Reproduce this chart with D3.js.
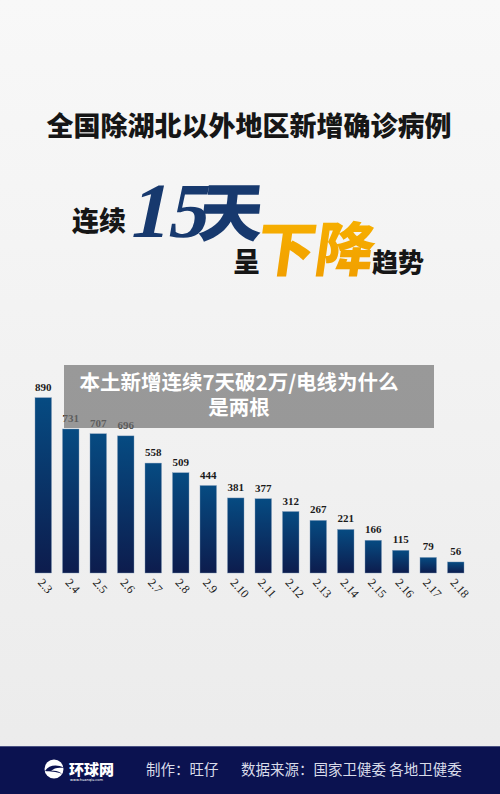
<!DOCTYPE html>
<html lang="zh">
<head>
<meta charset="utf-8">
<title>全国除湖北以外地区新增确诊病例</title>
<script src="https://d3js.org/d3.v7.min.js"></script>
<style>
  html, body { margin: 0; padding: 0; background: #f2f2f2; }
  svg { display: block; }
</style>
</head>
<body>
<div id="chart"></div>
<script>
const dates = ["2.3", "2.4", "2.5", "2.6", "2.7", "2.8", "2.9", "2.10",
               "2.11", "2.12", "2.13", "2.14", "2.15", "2.16", "2.17", "2.18"];
const cases = [890, 731, 707, 696, 558, 509, 444, 381, 377, 312, 267, 221, 166, 115, 79, 56];

const W = 500, H = 794;
const cjk = "'Noto Sans CJK SC', sans-serif";
const serif = "'Liberation Serif', 'DejaVu Serif', serif";

const svg = d3.select("#chart").append("svg")
    .attr("width", W)
    .attr("height", H);

const defs = svg.append("defs");

// page background
let bg = defs.append("linearGradient").attr("id", "bg")
    .attr("x1", 0).attr("y1", 0).attr("x2", 0).attr("y2", 1);
bg.append("stop").attr("offset", "0%").attr("stop-color", "#f8f8f8");
bg.append("stop").attr("offset", "100%").attr("stop-color", "#ebebeb");

// bar fill, lighter blue at the top
let bar = defs.append("linearGradient").attr("id", "bar")
    .attr("x1", 0).attr("y1", 0).attr("x2", 0).attr("y2", 1);
bar.append("stop").attr("offset", "0%").attr("stop-color", "#064b82");
bar.append("stop").attr("offset", "100%").attr("stop-color", "#0d1c4d");

let orange = defs.append("linearGradient").attr("id", "orange")
    .attr("x1", 0).attr("y1", 0).attr("x2", 0).attr("y2", 1);
orange.append("stop").attr("offset", "0%").attr("stop-color", "#f8b400");
orange.append("stop").attr("offset", "100%").attr("stop-color", "#f09c00");

svg.append("rect")
    .attr("width", W).attr("height", H)
    .attr("fill", "url(#bg)");

// headline
svg.append("text")
    .attr("x", 249).attr("y", 136)
    .attr("text-anchor", "middle")
    .attr("font-family", cjk)
    .attr("font-weight", 900)
    .attr("font-size", 27)
    .attr("fill", "#161616")
    .text("全国除湖北以外地区新增确诊病例");

function word(txt, x, y, size, fill, family, skew, weight) {
    svg.append("text")
        .attr("transform", "translate(" + x + "," + y + ") skewX(" + (skew || 0) + ")")
        .attr("font-family", family || cjk)
        .attr("font-weight", weight || 900)
        .attr("font-size", size)
        .attr("fill", fill)
        .text(txt);
}

word("连续", 72, 231, 27, "#161616");
word("15", 127, 237, 78, "#17396e", serif, -12, 700);
word("天", 197, 236, 64, "#17396e", cjk, -6);
word("呈", 233, 272, 27, "#161616");
word("下降", 254, 271, 59, "url(#orange)", cjk, -8);
word("趋势", 372, 272, 26, "#161616");

// bar chart
const baseY = 573;

const x = d3.scaleBand()
    .domain(dates)
    .range([35, 464])
    .paddingInner(0.4)
    .paddingOuter(0);

const y = d3.scaleLinear()
    .domain([0, 1000])
    .range([baseY, baseY - 197]);

const g = svg.append("g");

g.selectAll("rect.bar")
    .data(cases)
    .enter()
    .append("rect")
    .attr("class", "bar")
    .attr("x", (d, i) => x(dates[i]))
    .attr("y", d => y(d))
    .attr("width", x.bandwidth())
    .attr("height", d => y(0) - y(d))
    .attr("fill", "url(#bar)")
    .attr("stroke", "#7f9ab8")
    .attr("stroke-width", 0.4);

g.selectAll("text.val")
    .data(cases)
    .enter()
    .append("text")
    .attr("class", "val")
    .attr("x", (d, i) => x(dates[i]) + x.bandwidth() / 2)
    .attr("y", d => y(d) - 7)
    .attr("text-anchor", "middle")
    .attr("font-family", serif)
    .attr("font-weight", 700)
    .attr("font-size", 11)
    .attr("fill", "#1a1a1a")
    .text(d => d);

// date labels, slanted down to the right
const xAxis = d3.axisBottom(x).tickSize(0).tickPadding(0);
const ax = svg.append("g")
    .attr("transform", "translate(0," + baseY + ")")
    .call(xAxis);
ax.select(".domain").remove();
ax.selectAll("text")
    .attr("font-family", serif)
    .attr("font-size", 12)
    .attr("fill", "#1a1a1a")
    .attr("text-anchor", "start")
    .attr("dy", 0)
    .attr("y", 0)
    .attr("x", 0)
    .attr("transform", "translate(-6,10) rotate(48)");

// grey caption overlay
svg.append("rect")
    .attr("x", 64).attr("y", 365)
    .attr("width", 370).attr("height", 63)
    .attr("fill", "rgb(118,118,118)")
    .attr("opacity", 0.72);

const capLines = ["本土新增连续7天破2万/电线为什么", "是两根"];
svg.selectAll("text.cap")
    .data(capLines)
    .enter()
    .append("text")
    .attr("class", "cap")
    .attr("x", 239)
    .attr("y", (d, i) => 390 + i * 25)
    .attr("text-anchor", "middle")
    .attr("font-family", cjk)
    .attr("font-weight", 700)
    .attr("font-size", 20.5)
    .attr("fill", "#ffffff")
    .text(d => d);

// footer
svg.append("rect")
    .attr("x", 0).attr("y", 746)
    .attr("width", W).attr("height", H - 746)
    .attr("fill", "#0b1250");
svg.append("line")
    .attr("x1", 0).attr("x2", W)
    .attr("y1", 746.5).attr("y2", 746.5)
    .attr("stroke", "#4a5282")
    .attr("stroke-width", 1);

// logo
svg.append("circle")
    .attr("cx", 54).attr("cy", 769).attr("r", 9.5)
    .attr("fill", "#ffffff");
svg.append("path")
    .attr("d", "M45,771 C49,765 57,764 64,768 C58,767 54,768 51,771 C56,770 60,772 62,774 C56,771 50,772 45,771 Z")
    .attr("fill", "#0b1250");
svg.append("text")
    .attr("x", 69).attr("y", 775)
    .attr("font-family", cjk)
    .attr("font-weight", 900)
    .attr("font-size", 15)
    .attr("fill", "#ffffff")
    .text("环球网");
svg.append("text")
    .attr("x", 70).attr("y", 780.5)
    .attr("font-family", "'DejaVu Sans', sans-serif")
    .attr("font-size", 3.6)
    .attr("fill", "#ffffff")
    .text("www.huanqiu.com");

svg.append("text")
    .attr("x", 146).attr("y", 775)
    .attr("font-family", cjk)
    .attr("font-size", 14.5)
    .attr("fill", "#d9dcea")
    .text("制作：旺仔");
svg.append("text")
    .attr("x", 241).attr("y", 775)
    .attr("font-family", cjk)
    .attr("font-size", 14.5)
    .attr("fill", "#d9dcea")
    .text("数据来源：国家卫健委 各地卫健委");
</script>
</body>
</html>
